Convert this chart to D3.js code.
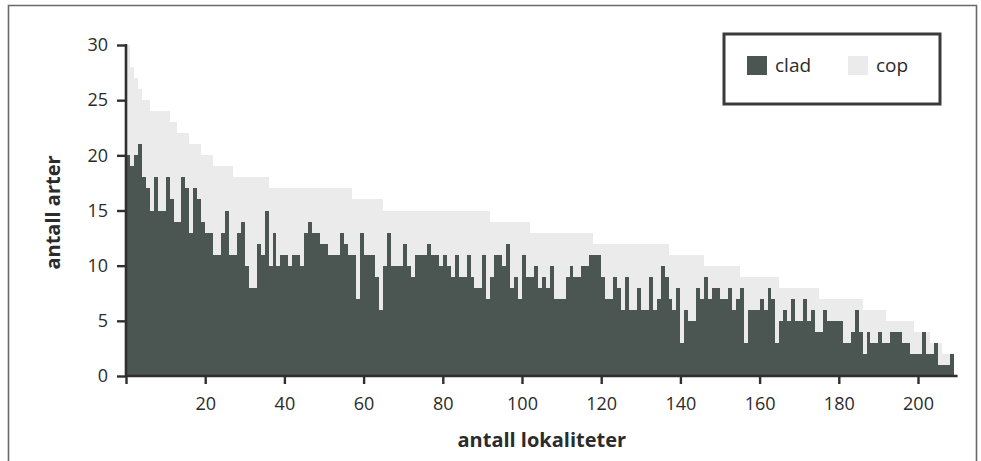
<!DOCTYPE html>
<html>
<head>
<meta charset="utf-8">
<script src="https://cdn.jsdelivr.net/npm/d3@7"></script>
<style>
  html, body { margin: 0; padding: 0; background: #fff; }
  svg { display: block; }
  text { font-family: "Open Sans", "Noto Sans", sans-serif; fill: #2b2b2b; }
</style>
</head>
<body>
<svg id="chart" width="981" height="461"></svg>
<script>
// Number of species per locality, localities ordered by total species count
const seriesKeys = ["clad", "cop"];

const clad = [
  20,19,20,21,18,17,15,18,15,15,
  18,16,14,14,18,17,13,17,16,14,
  13,13,11,11,13,15,11,11,13,14,
  10,8,8,12,11,15,10,13,10,11,
  11,10,11,11,10,13,14,13,13,12,
  12,11,11,11,13,12,11,11,7,13,
  11,11,11,9,6,10,13,10,10,10,
  12,10,9,11,11,11,12,11,11,10,
  11,10,9,11,9,9,11,9,8,8,
  11,7,9,11,11,10,12,8,9,7,
  11,9,9,10,8,9,8,10,7,7,
  7,9,10,9,9,10,10,11,11,11,
  9,7,7,9,8,6,9,6,6,8,
  6,6,9,6,7,10,9,7,6,8,
  3,6,5,5,8,7,9,7,8,8,
  7,7,8,6,7,8,3,6,6,6,
  7,6,8,7,3,5,6,5,7,5,
  5,7,5,6,4,4,6,5,5,5,
  5,3,3,4,6,4,2,4,3,3,
  4,3,3,4,4,4,3,3,2,2,
  2,4,2,2,3,1,1,1,2
];

const cop = [
  10,9,7,5,7,8,9,6,9,9,
  6,7,9,8,4,5,8,4,5,6,
  7,7,8,8,6,4,8,7,5,4,
  8,10,10,6,7,3,7,4,7,6,
  6,7,6,6,7,4,3,4,4,5,
  5,6,6,6,4,5,6,5,9,3,
  5,5,5,7,10,5,2,5,5,5,
  3,5,6,4,4,4,3,4,4,5,
  4,5,6,4,6,6,4,6,7,7,
  4,8,5,3,3,4,2,6,5,7,
  3,5,4,3,5,4,5,3,6,6,
  6,4,3,4,4,3,3,2,1,1,
  3,5,5,3,4,6,3,6,6,4,
  6,6,3,6,5,2,3,4,5,3,
  8,5,6,6,3,4,1,3,2,2,
  3,3,2,4,3,1,6,3,3,3,
  2,3,1,2,6,3,2,3,1,3,
  3,1,3,2,4,3,1,2,2,2,
  2,4,4,3,1,3,4,2,3,3,
  2,3,2,1,1,1,2,2,3,2,
  2,0,2,1,0,2,1,1,0
];

const yTicks = [0, 5, 10, 15, 20, 25, 30];
const xTicks = [0, 20, 40, 60, 80, 100, 120, 140, 160, 180, 200];
const xTitle = "antall lokaliteter";
const yTitle = "antall arter";

const colors = { clad: "#4b5652", cop: "#ebebeb" };
const ink = "#2f2f2f";
const tickFont = "'Open Sans', 'Noto Sans', sans-serif";

const svg = d3.select("#chart");

// outer frame (left, top, right edges)
svg.append("path")
  .attr("d", "M8.5,461 L8.5,5.5 L976.5,5.5 L976.5,461")
  .attr("fill", "none")
  .attr("stroke", "#6a6a6a")
  .attr("stroke-width", 1.6);

const x = d3.scaleLinear().domain([0, 210]).range([126, 957.6]);
const y = d3.scaleLinear().domain([0, 30]).range([376, 45]);

const rows = clad.map((c, i) => ({ idx: i + 1, clad: c, cop: cop[i] }));
const stacked = d3.stack().keys(seriesKeys)(rows);

const plot = svg.append("g").attr("shape-rendering", "crispEdges");
stacked.forEach(layer => {
  plot.append("g")
    .attr("fill", colors[layer.key])
    .selectAll("rect")
    .data(layer)
    .join("rect")
    .attr("x", d => Math.round(x(d.data.idx - 1)))
    .attr("width", d => Math.round(x(d.data.idx)) - Math.round(x(d.data.idx - 1)))
    .attr("y", d => Math.round(y(d[1])))
    .attr("height", d => Math.max(0, Math.round(y(d[0])) - Math.round(y(d[1]))));
});

// y axis
const yAxis = svg.append("g")
  .attr("transform", `translate(${x(0)},0)`)
  .call(d3.axisLeft(y).tickValues(yTicks).tickSize(9).tickPadding(9).tickFormat(d3.format("d")));
yAxis.select(".domain").attr("stroke", ink).attr("stroke-width", 2.6)
  .attr("d", `M0,${y(30) - 1}V${y(0) + 1}`);
yAxis.selectAll(".tick line").attr("stroke", ink).attr("stroke-width", 2.4);
yAxis.selectAll(".tick text")
  .attr("font-size", 18).attr("fill", ink)
  .style("font-family", tickFont);

// x axis
const xAxis = svg.append("g")
  .attr("transform", `translate(0,${y(0)})`)
  .call(d3.axisBottom(x).tickValues(xTicks).tickSize(8).tickPadding(13)
    .tickFormat(d => d === 0 ? "" : d));
xAxis.select(".domain").attr("stroke", ink).attr("stroke-width", 2.4)
  .attr("d", `M${x(0)},0H${x(210)}`);
xAxis.selectAll(".tick line").attr("stroke", ink).attr("stroke-width", 2.4);
xAxis.selectAll(".tick text")
  .attr("font-size", 18).attr("fill", ink)
  .style("font-family", tickFont);

// axis titles
svg.append("text")
  .attr("x", x(105)).attr("y", 447)
  .attr("text-anchor", "middle")
  .attr("font-size", 20).attr("font-weight", "bold")
  .text(xTitle);

svg.append("text")
  .attr("transform", `translate(60,${(y(0) + y(30)) / 2 + 2}) rotate(-90)`)
  .attr("text-anchor", "middle")
  .attr("font-size", 20).attr("font-weight", "bold")
  .text(yTitle);

// legend
const legend = svg.append("g").attr("transform", "translate(724,34)");
legend.append("rect")
  .attr("width", 216).attr("height", 70)
  .attr("fill", "#fff").attr("stroke", "#3a3a3a").attr("stroke-width", 3);
const items = legend.selectAll("g.item")
  .data(seriesKeys)
  .join("g")
  .attr("class", "item")
  .attr("transform", (d, i) => `translate(${23 + i * 101},22)`);
items.append("rect")
  .attr("width", 20).attr("height", 19)
  .attr("fill", d => colors[d]);
items.append("text")
  .attr("x", 28).attr("y", 16)
  .attr("font-size", 19)
  .text(d => d);
</script>
</body>
</html>
